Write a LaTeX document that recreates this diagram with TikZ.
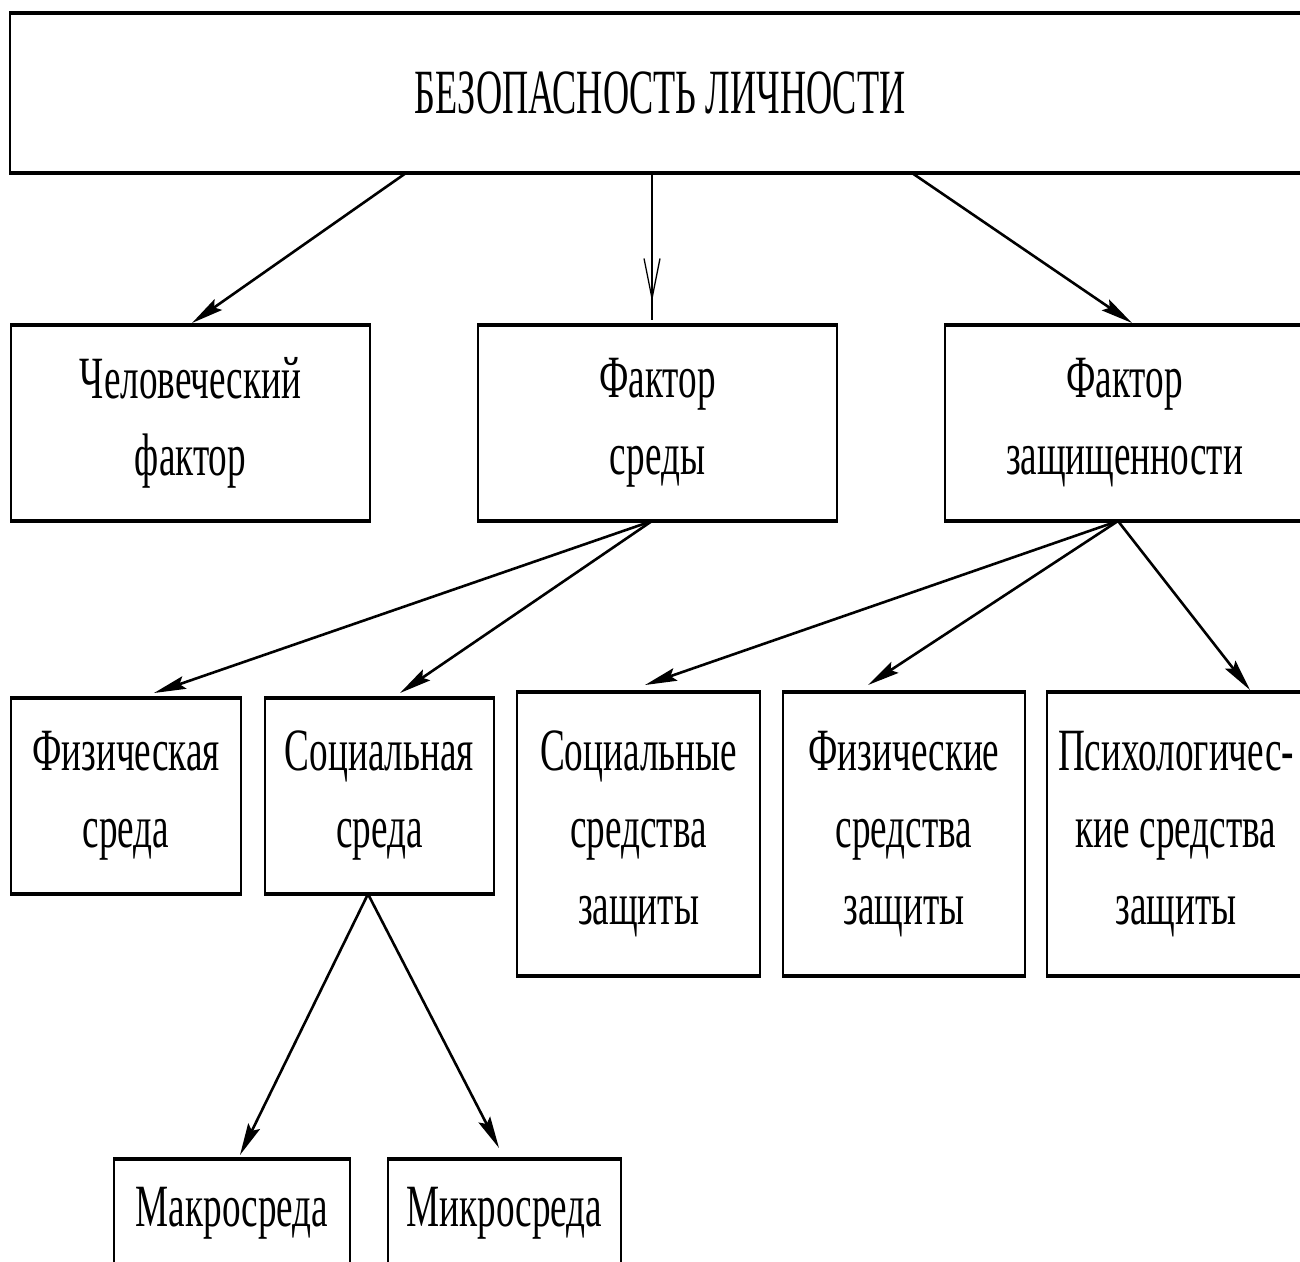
\documentclass[tikz,border=0pt]{standalone}
\usepackage{fontspec}
\setmainfont{Liberation Serif}[FakeStretch=0.62]
\newfontfamily\titlefont{Liberation Serif}[FakeStretch=0.575]
\usetikzlibrary{arrows.meta,decorations.markings}
\begin{document}
\begin{tikzpicture}[x=1pt,y=-1pt,
  box/.style={draw, line width=2pt, outer sep=0pt, inner sep=0pt, align=center,
    font=\fontsize{60}{77}\selectfont, anchor=center},
  conn/.style={line width=2.6pt, -{Stealth[length=32pt,width=13pt,inset=5pt]}},
  thinconn/.style={line width=1.3pt, postaction={decorate},
    decoration={markings, mark=at position 0.876 with {\arrow{Straight Barb[length=40pt,width=16pt]}}}},
  edge/.style={line width=4.5pt}
]
\useasboundingbox (0,0) rectangle (1300,1261);
\clip (0,0) rectangle (1300,1261);

\node[box, minimum width=1300pt, minimum height=160pt, font=\titlefont\fontsize{63}{70}\selectfont] (top) at (660,93) {БЕЗОПАСНОСТЬ ЛИЧНОСТИ};

\node[box, minimum width=359pt, minimum height=196pt] (hum) at (190.5,423) {Человеческий\\фактор};
\node[box, minimum width=359pt, minimum height=196pt] (env) at (657.5,423) {Фактор\\среды};
\node[box, minimum width=359pt, minimum height=196pt] (prot) at (1124.5,423) {Фактор\\защищенности};

\node[box, minimum width=230pt, minimum height=196pt] (phys) at (126,796) {Физическая\\среда};
\node[box, minimum width=229pt, minimum height=196pt] (soc) at (379.5,796) {Социальная\\среда};
\node[box, minimum width=243pt, minimum height=284pt] (socm) at (638.5,834) {Социальные\\средства\\защиты};
\node[box, minimum width=242pt, minimum height=284pt] (physm) at (904,834) {Физические\\средства\\защиты};
\node[box, minimum width=258pt, minimum height=284pt] (psym) at (1176,834) {Психологичес-\\кие средства\\защиты};

\node[box, minimum width=236pt, minimum height=108pt] (macro) at (232,1213) {Макросреда};
\node[box, minimum width=233pt, minimum height=108pt] (micro) at (504.5,1213) {Микросреда};

\foreach \n in {top,hum,env,prot,phys,soc,socm,physm,psym,macro,micro}
  \draw[edge] ([xshift=-1pt]\n.north west) -- ([xshift=1pt]\n.north east)
              ([xshift=-1pt]\n.south west) -- ([xshift=1pt]\n.south east);

\draw[conn] ([xshift=-254pt]top.south) -- ([xshift=1.5pt,yshift=2pt]hum.north);
\draw[thinconn] ([xshift=-8pt]top.south) -- ([xshift=-5.5pt,yshift=5pt]env.north);
\draw[conn] ([xshift=252pt]top.south) -- ([xshift=7.5pt,yshift=2pt]prot.north);

\draw[conn] ([xshift=-5.5pt]env.south) -- ([xshift=28pt,yshift=5pt]phys.north);
\draw[conn] ([xshift=-5.5pt]env.south) -- ([xshift=20.5pt,yshift=5pt]soc.north);

\draw[conn] ([xshift=-6.5pt]prot.south) -- ([xshift=6.5pt,yshift=7pt]socm.north);
\draw[conn] ([xshift=-6.5pt]prot.south) -- ([xshift=-36pt,yshift=7pt]physm.north);
\draw[conn] ([xshift=-6.5pt]prot.south) -- ([xshift=74pt,yshift=2pt]psym.north);

\draw[conn] ([xshift=-11.5pt]soc.south) -- ([xshift=8pt,yshift=4pt]macro.north);
\draw[conn] ([xshift=-11.5pt]soc.south) -- ([xshift=-5.5pt,yshift=11pt]micro.north);
\end{tikzpicture}
\end{document}
